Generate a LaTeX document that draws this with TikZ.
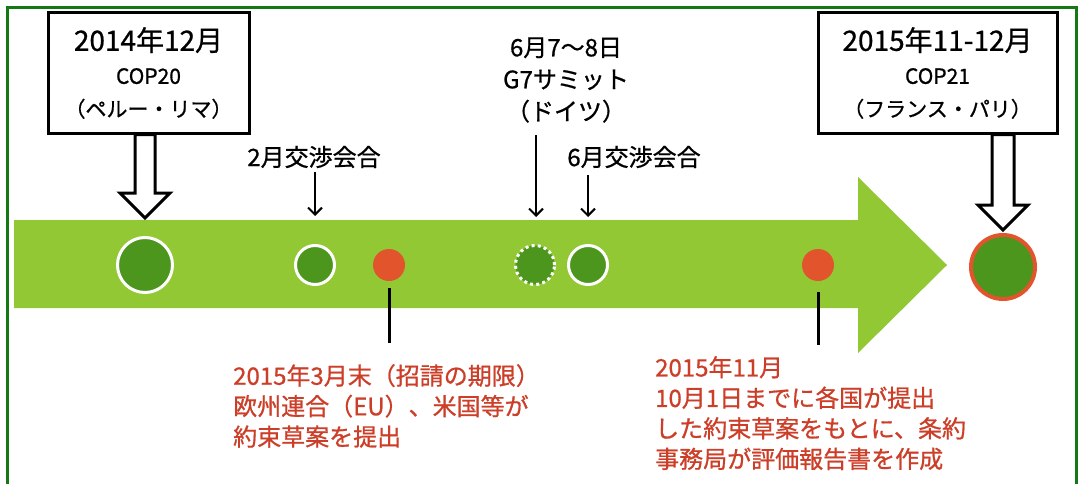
\documentclass[tikz,border=0pt]{standalone}
\usepackage{fontspec}
\setmainfont{Noto Sans CJK JP}[FakeBold=0.8]
\usetikzlibrary{arrows.meta,calc}
\definecolor{framegreen}{RGB}{20,120,20}
\definecolor{bandgreen}{RGB}{146,200,52}
\definecolor{dotgreen}{RGB}{76,150,30}
\definecolor{dotred}{RGB}{226,84,44}
\definecolor{txtred}{RGB}{204,62,40}
\begin{document}
\begin{tikzpicture}[x=1pt,y=-1pt,
  box/.style={draw=black, line width=3pt, fill=white, align=center,
    minimum width=201pt, minimum height=120pt, inner sep=0pt,
    font=\fontsize{21}{33}\selectfont},
  hollow/.style={draw=black, line width=3pt, fill=white, line join=miter},
  gdot/.style={circle, fill=dotgreen, draw=white, line width=3pt, inner sep=0pt},
  rdot/.style={circle, fill=dotred, inner sep=0pt, minimum size=32pt},
  lab/.style={font=\fontsize{24}{32}\selectfont, align=center, inner sep=0pt},
  note/.style={font=\fontsize{24}{30.5}\selectfont, align=left, inner sep=0pt,
    text=txtred, anchor=north west},
  pointer/.style={draw=black, line width=2pt, -{Straight Barb[length=7pt,width=14pt,line width=2pt]}},
  stem/.style={draw=black, line width=3pt}
]
\useasboundingbox (0,0) rectangle (1083,484);
\fill[white] (0,0) rectangle (1083,484);
% frame
\draw[framegreen, line width=3pt] (7,490) -- (7,8) -- (1076,8) -- (1076,490);
% timeline arrow
\fill[bandgreen] (14,220) -- (858,220) -- (858,177) -- (947,265) -- (858,353)
  -- (858,308) -- (14,308) -- cycle;
% dots
\node[gdot, minimum size=55pt] (c1) at (145,265) {};
\node[gdot, minimum size=39pt] (c2) at (315,265) {};
\node[rdot] (r1) at (389,265) {};
\node[circle, fill=dotgreen, draw=white, line width=3pt, dash pattern=on 3pt off 3.2pt,
  inner sep=0pt, minimum size=39pt] (c3) at (535,265) {};
\node[gdot, minimum size=39pt] (c4) at (588,265) {};
\node[rdot] (r2) at (818,265) {};
\node[circle, fill=dotgreen, draw=dotred, line width=4pt, inner sep=0pt,
  minimum size=64pt] (c5) at (1003,267) {};
% boxes
\node[box] (b1) at (148.5,73) {{\fontsize{28}{33}\selectfont 2014年12月}\\COP20\\（ペルー・リマ）};
\node[box, minimum width=239pt] (b2) at (937.5,73) {{\fontsize{28}{33}\selectfont 2015年11-12月}\\COP21\\（フランス・パリ）};
% hollow arrows
\coordinate (t1) at (145,218);
\draw[hollow] (t1) -- ++(-25,-25) -- ++(15,0) -- ($(t1|-b1.south)+(-10,0)$)
  -- ($(t1|-b1.south)+(10,0)$) -- ($(t1)+(10,-25)$) -- ++(15,0) -- cycle;
\coordinate (t2) at (1003,230);
\draw[hollow] (t2) -- ++(-25,-25) -- ++(14,0) -- ($(t2|-b2.south)+(-11,0)$)
  -- ($(t2|-b2.south)+(11,0)$) -- ($(t2)+(11,-25)$) -- ++(14,0) -- cycle;
% labels above
\node[lab] (l2) at (314,157) {2月交渉会合};
\node[lab] (g7) at (566,80) {6月7～8日\\G7サミット\\（ドイツ）};
\node[lab] (l6) at (634,157) {6月交渉会合};
\coordinate (a2) at (315,216);
\coordinate (a3) at (536,217);
\coordinate (a4) at (588,217);
\draw[pointer] (315,172) -- (a2);
\draw[pointer] (536,135) -- (a3);
\draw[pointer] (588,175) -- (a4);
% red notes
\node[note] (n1) at (233,364) {2015年3月末（招請の期限）\\欧州連合（EU）、米国等が\\約束草案を提出};
\node[note] (n2) at (655,356) {2015年11月\\10月1日までに各国が提出\\した約束草案をもとに、条約\\事務局が評価報告書を作成};
\draw[stem] ($(r1.south)+(0,7)$) -- ($(r1.south)+(0,62)$);
\draw[stem] ($(r2.south)+(0,11)$) -- ($(r2.south)+(0,64)$);
\end{tikzpicture}
\end{document}
